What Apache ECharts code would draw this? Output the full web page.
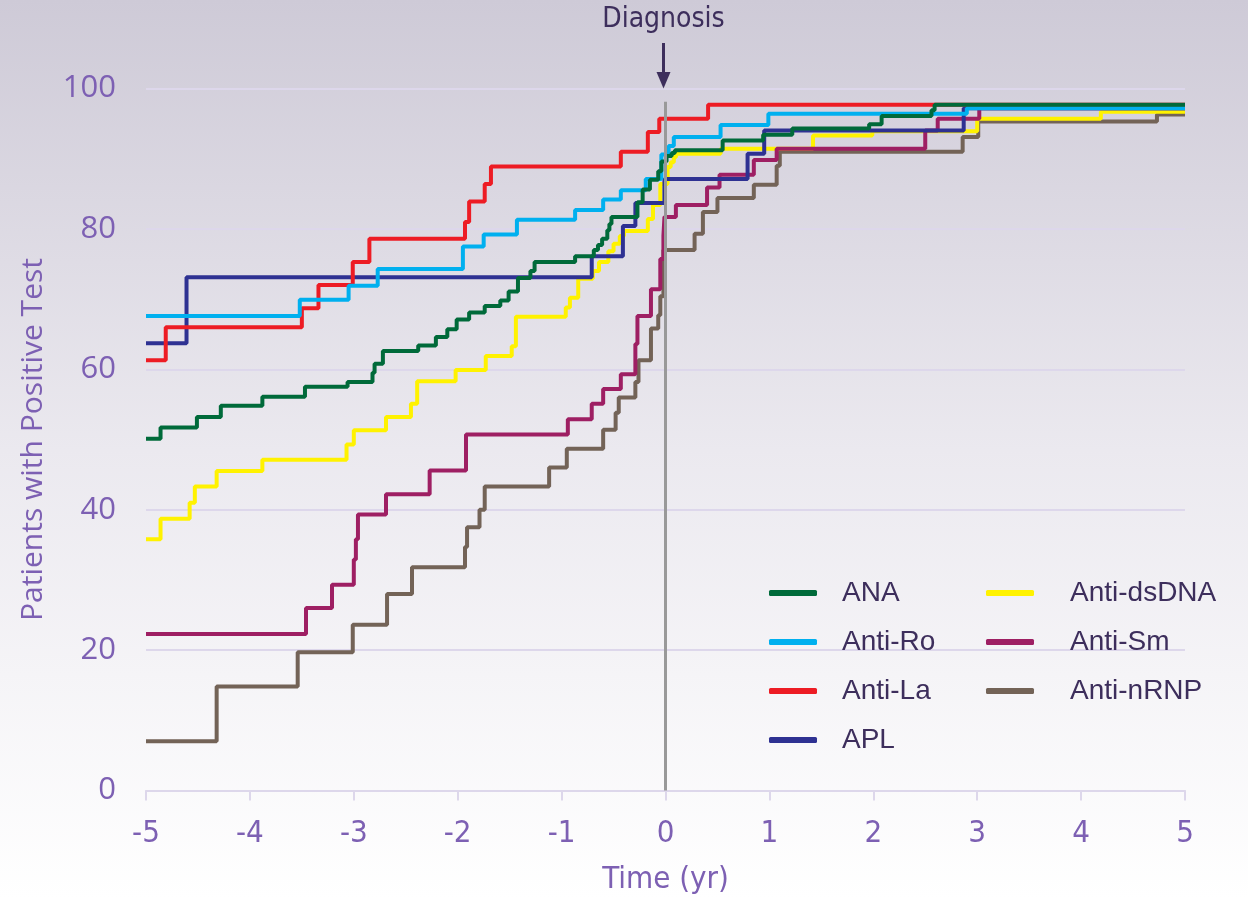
<!DOCTYPE html>
<html><head><meta charset="utf-8">
<script src="https://cdn.jsdelivr.net/npm/echarts@6/dist/echarts.min.js"></script>
<style>html,body{margin:0;padding:0;background:#fff;}#c{width:1248px;height:899px;}</style>
</head><body><div id="c"></div>
<script>
// ---- data: [time (yr), % patients with positive test]; value holds from its time until the next point ----
const ana = [[-5,50.1],[-4.86,51.7],[-4.51,53.2],[-4.28,54.8],[-3.88,56.1],[-3.47,57.5],[-3.06,58.2],[-2.82,59.5],[-2.80,60.8],[-2.72,62.6],[-2.38,63.4],[-2.21,64.6],[-2.10,65.7],[-2.01,67.1],[-1.89,68.1],[-1.74,69.0],[-1.59,69.8],[-1.51,71.1],[-1.42,73.0],[-1.30,74.0],[-1.26,75.3],[-0.87,76.1],[-0.69,77.0],[-0.65,77.7],[-0.61,78.6],[-0.56,79.8],[-0.54,80.7],[-0.52,81.7],[-0.27,83.8],[-0.22,85.6],[-0.15,87.0],[-0.07,88.2],[-0.04,89.6],[0.01,90.4],[0.06,90.8],[0.09,91.2],[0.55,92.6],[0.94,93.4],[1.22,94.3],[1.96,94.9],[2.08,96.1],[2.56,96.9],[2.59,97.7],[5,97.7]];
const antiRo = [[-5,67.6],[-3.52,69.9],[-3.05,71.9],[-2.77,74.3],[-1.95,77.5],[-1.75,79.2],[-1.43,81.3],[-0.87,82.7],[-0.60,84.2],[-0.43,85.5],[-0.19,87.1],[-0.04,90.6],[0.03,91.8],[0.08,93.1],[0.53,94.8],[0.99,96.4],[2.90,97.2],[5,97.2]];
const antiLa = [[-5,61.3],[-4.81,66.0],[-3.50,68.7],[-3.34,72.0],[-3.01,75.3],[-2.85,78.6],[-1.93,81.0],[-1.89,83.9],[-1.74,86.4],[-1.68,88.9],[-0.43,91.0],[-0.17,93.8],[-0.06,95.7],[0.41,97.7],[5,97.7]];
const apl = [[-5,63.7],[-4.61,73.1],[-0.71,76.1],[-0.41,80.4],[-0.29,83.7],[-0.01,87.1],[0.79,90.7],[0.95,94.0],[2.87,97.2],[5,97.2]];
const antiDsDNA = [[-5,35.8],[-4.86,38.7],[-4.58,41.0],[-4.53,43.3],[-4.32,45.5],[-3.88,47.1],[-3.07,49.3],[-3.00,51.3],[-2.69,53.2],[-2.45,55.1],[-2.39,58.3],[-2.02,59.9],[-1.73,61.9],[-1.48,63.3],[-1.44,67.5],[-0.96,68.8],[-0.92,70.2],[-0.84,72.9],[-0.70,74.0],[-0.64,75.3],[-0.55,76.8],[-0.50,77.9],[-0.44,79.0],[-0.40,79.7],[-0.17,81.4],[-0.12,83.4],[-0.05,86.4],[0.02,88.8],[0.05,89.5],[0.08,90.2],[0.10,90.7],[0.53,91.4],[1.42,93.3],[1.99,93.9],[3.00,95.7],[4.19,96.7],[5,96.7]];
const antiSm = [[-5,22.3],[-3.46,26.0],[-3.21,29.3],[-3.00,32.9],[-2.98,35.8],[-2.96,39.3],[-2.69,42.2],[-2.27,45.6],[-1.92,50.7],[-0.94,52.9],[-0.71,55.1],[-0.60,57.2],[-0.43,59.3],[-0.29,63.6],[-0.27,67.6],[-0.14,71.4],[-0.05,75.7],[-0.02,79.0],[-0.01,81.7],[0.10,83.4],[0.40,85.9],[0.52,87.7],[0.85,89.8],[1.07,91.4],[2.50,94.0],[2.62,95.7],[3.02,97.2],[5,97.2]];
const antiNRNP = [[-5,7.0],[-4.32,14.8],[-3.54,19.7],[-3.01,23.6],[-2.68,28.0],[-2.44,31.8],[-1.93,34.7],[-1.91,37.5],[-1.79,40.0],[-1.74,43.3],[-1.12,46.0],[-0.95,48.7],[-0.60,51.4],[-0.48,53.8],[-0.45,56.0],[-0.29,58.2],[-0.26,61.3],[-0.14,65.8],[-0.07,67.7],[-0.05,70.4],[-0.02,77.0],[0.28,79.3],[0.36,82.4],[0.50,84.4],[0.85,86.3],[1.07,89.0],[1.10,91.0],[2.86,93.1],[3.01,95.3],[4.73,96.3],[5,96.3]];
const legendCol1 = ['ANA','Anti-Ro','Anti-La','APL'];
const legendCol2 = ['Anti-dsDNA','Anti-Sm','Anti-nRNP'];
const diagnosisX = 0;
const diagnosisLineTop = 98.1;

const colors = {'ANA':'#006a3a','Anti-Ro':'#00b0ef','Anti-La':'#ed1c24','APL':'#2e3192','Anti-dsDNA':'#fff200','Anti-Sm':'#9e1f63','Anti-nRNP':'#736357'};
const drawOrder = [['Anti-nRNP',antiNRNP],['Anti-dsDNA',antiDsDNA],['Anti-Sm',antiSm],['APL',apl],['Anti-La',antiLa],['Anti-Ro',antiRo],['ANA',ana]];

const purple = '#7d60b3';
const dark = '#3d2e5c';
const gridColor = '#ddd7eb';

const chart = echarts.init(document.getElementById('c'), null, {renderer:'canvas'});
const seriesList = drawOrder.map(([name, d]) => ({
  name, type:'line', step:'end', data:d, symbol:'none', showSymbol:false,
  lineStyle:{color:colors[name], width:4}, itemStyle:{color:colors[name]}, z:3, animation:false
}));
seriesList.unshift({
  name:'diag', type:'line', data:[], z:2, animation:false,
  markLine:{silent:true, symbol:'none', animation:false, label:{show:false},
    lineStyle:{color:'#999999', width:3, type:'solid'},
    data:[[{coord:[diagnosisX,0]},{coord:[diagnosisX,diagnosisLineTop]}]]}
});

const legendBase = {
  orient:'vertical', icon:'roundRect', itemWidth:48, itemHeight:6, itemGap:17, top:572,
  selectedMode:false,
  textStyle:{color:dark, fontFamily:'Liberation Sans, Arial, sans-serif', fontSize:28, lineHeight:32}
};

chart.setOption({
  animation:false,
  backgroundColor:{type:'linear', x:0, y:0, x2:0, y2:1, colorStops:[{offset:0,color:'#cecad7'},{offset:0.5,color:'#ebe9ef'},{offset:1,color:'#ffffff'}]},
  grid:{left:146, right:63, top:88.5, bottom:108.5, containLabel:false, outerBoundsMode:'none'},
  legend:[
    Object.assign({}, legendBase, {left:764, data:legendCol1, textStyle:Object.assign({}, legendBase.textStyle, {padding:[0,0,0,20]})}),
    Object.assign({}, legendBase, {left:981, data:legendCol2, textStyle:Object.assign({}, legendBase.textStyle, {padding:[0,0,0,31]})})
  ],
  xAxis:{type:'value', min:-5, max:5, interval:1,
    name:'Time (yr)', nameLocation:'middle', nameGap:74,
    nameTextStyle:{color:purple, fontFamily:'DejaVu Sans Condensed, Liberation Sans Narrow, sans-serif', fontSize:31},
    axisLine:{show:true, lineStyle:{color:gridColor, width:2}},
    axisTick:{show:true, length:10, lineStyle:{color:gridColor, width:2}},
    splitLine:{show:false},
    axisLabel:{color:purple, fontFamily:'DejaVu Sans Condensed, Liberation Sans Narrow, sans-serif', fontSize:31, margin:28}
  },
  yAxis:{type:'value', min:0, max:100, interval:20,
    name:'Patients with Positive Test', nameLocation:'middle', nameGap:98, nameRotate:90,
    nameTextStyle:{color:purple, fontFamily:'Open Sans, sans-serif', fontSize:30},
    axisLine:{show:false}, axisTick:{show:false},
    splitLine:{show:true, lineStyle:{color:gridColor, width:2}},
    axisLabel:{color:purple, fontFamily:'Open Sans, sans-serif', fontSize:31, margin:30}
  },
  series:seriesList
});

const topPx = chart.convertToPixel({xAxisIndex:0, yAxisIndex:0}, [diagnosisX, 100]);
const ax = topPx[0] - 2;
chart.setOption({
  graphic:[
    {type:'text', x:ax, y:20, style:{text:'Diagnosis', fill:dark, font:'28px "DejaVu Sans Condensed", "Liberation Sans Narrow", sans-serif', align:'center', verticalAlign:'middle'}},
    {type:'line', shape:{x1:ax, y1:43, x2:ax, y2:76}, style:{stroke:dark, lineWidth:3}},
    {type:'polygon', shape:{points:[[ax-7,72],[ax+7,72],[ax,topPx[1]]]}, style:{fill:dark}}
  ]
});
</script></body></html>
